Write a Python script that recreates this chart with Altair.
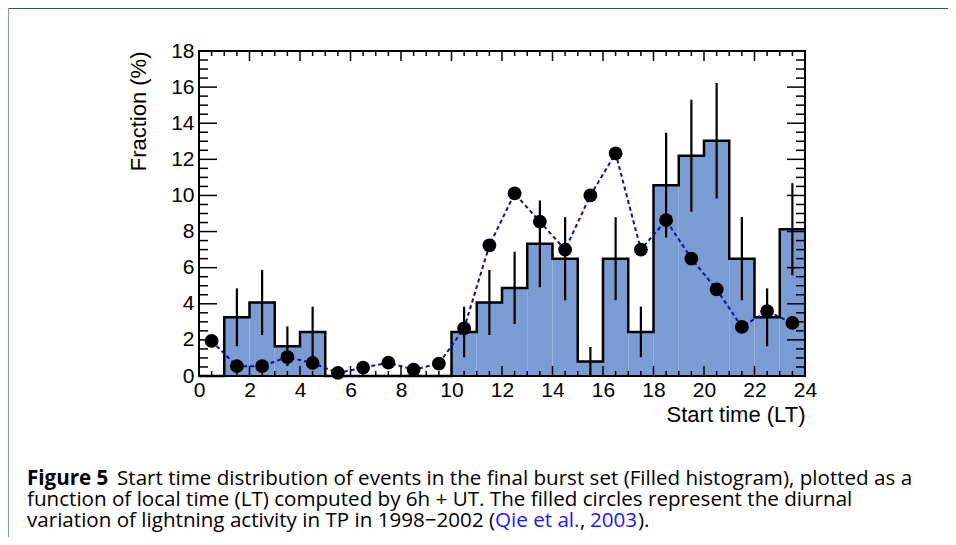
import altair as alt
import pandas as pd

# ---------------- data ----------------
hour_start = list(range(24))
burst_frac = [0, 3.25, 4.07, 1.65, 2.44, 0, 0, 0, 0, 0,
              2.44, 4.07, 4.88, 7.32, 6.5, 0.81, 6.5, 2.44,
              10.57, 12.2, 13.03, 6.5, 3.25, 8.13]
burst_err = [0, 1.6, 1.8, 1.1, 1.4, 0, 0, 0, 0, 0,
             1.4, 1.8, 2.0, 2.4, 2.3, 0.8, 2.3, 1.4,
             2.9, 3.1, 3.2, 2.3, 1.6, 2.55]
lightning = [1.94, 0.54, 0.55, 1.05, 0.72, 0.17, 0.46, 0.74, 0.35, 0.69,
             2.64, 7.24, 10.11, 8.55, 7.0, 10.0, 12.33, 7.0,
             8.63, 6.5, 4.8, 2.72, 3.59, 2.94]

x_major = [0, 2, 4, 6, 8, 10, 12, 14, 16, 18, 20, 22, 24]
x_minor = [0.5, 1, 1.5, 2.5, 3, 3.5, 4.5, 5, 5.5, 6.5, 7, 7.5, 8.5, 9, 9.5,
           10.5, 11, 11.5, 12.5, 13, 13.5, 14.5, 15, 15.5, 16.5, 17, 17.5,
           18.5, 19, 19.5, 20.5, 21, 21.5, 22.5, 23, 23.5]
y_major = [0, 2, 4, 6, 8, 10, 12, 14, 16, 18]
y_minor = [0.5, 1, 1.5, 2.5, 3, 3.5, 4.5, 5, 5.5, 6.5, 7, 7.5, 8.5, 9, 9.5,
           10.5, 11, 11.5, 12.5, 13, 13.5, 14.5, 15, 15.5, 16.5, 17, 17.5]

# ---------------- tables ----------------
hist = pd.DataFrame({"lo": hour_start, "frac": burst_frac, "err": burst_err})
hist["hi"] = hist["lo"] + 1
hist["mid"] = hist["lo"] + 0.5
hist["elo"] = (hist["frac"] - hist["err"]).clip(lower=0)
hist["ehi"] = hist["frac"] + hist["err"]
errs = hist[hist["err"] > 0]

step = pd.DataFrame({"x": hour_start + [24], "y": burst_frac + [burst_frac[-1]]})
light = pd.DataFrame({"x": [h + 0.5 for h in hour_start], "y": lightning})

W, H = 606, 325
OX, OY = 199, 51  # page position of plot origin
FONT = "Liberation Sans"
CAP_FONT = "Open Sans"
CAP_SIZE = 20.6

xs = alt.Scale(domain=[0, 24], nice=False, zero=False)
ys = alt.Scale(domain=[0, 18], nice=False, zero=False)

xax = alt.Axis(values=x_major, title="Start time (LT)", ticks=False, domain=False,
               grid=False, labelFont=FONT, labelFontSize=21, labelColor="black",
               labelPadding=3, labelFlush=False, labelOverlap=False, format="d",
               titleFont=FONT, titleFontSize=22, titleFontWeight="normal",
               titleColor="black", titleAnchor="end", titlePadding=4)
yax = alt.Axis(values=y_major, title="Fraction (%)", ticks=False, domain=False,
               grid=False, labelFont=FONT, labelFontSize=21, labelColor="black",
               labelPadding=5, labelFlush=False, labelOverlap=False, format="d",
               titleFont=FONT, titleFontSize=22, titleFontWeight="normal",
               titleColor="black", titleAnchor="end", titlePadding=20)


def X(f):
    return alt.X(f, type="quantitative", scale=xs, axis=xax)


def Y(f):
    return alt.Y(f, type="quantitative", scale=ys, axis=yax)


one = alt.Data(values=[{}])

bars = alt.Chart(hist).mark_rect(color="#7b9bd3", opacity=1).encode(
    x=X("lo"), x2="hi", y=Y("frac"), y2=alt.datum(0))

outline = alt.Chart(step).mark_line(interpolate="step-after", color="black",
                                    strokeWidth=2.5).encode(x=X("x"), y=Y("y"))

dashed = alt.Chart(light).mark_line(color="#10109a", strokeWidth=2,
                                    strokeDash=[4, 3]).encode(x=X("x"), y=Y("y"))

ebars = alt.Chart(errs).mark_rule(color="black", strokeWidth=2.2).encode(
    x=X("mid"), y=Y("elo"), y2="ehi")

dots = alt.Chart(light).mark_circle(color="black", opacity=1, size=190).encode(
    x=X("x"), y=Y("y"))

# ROOT-style inward ticks on all four sides
xt_major = pd.DataFrame({"t": x_major})
xt_minor = pd.DataFrame({"t": x_minor})
yt_major = pd.DataFrame({"t": y_major})
yt_minor = pd.DataFrame({"t": y_minor})
tk = dict(color="black", strokeWidth=1.5)
ticks = [
    alt.Chart(xt_major).mark_rule(**tk).encode(x=X("t"), y=alt.value(H), y2=alt.value(H - 10)),
    alt.Chart(xt_minor).mark_rule(**tk).encode(x=X("t"), y=alt.value(H), y2=alt.value(H - 5)),
    alt.Chart(xt_major).mark_rule(**tk).encode(x=X("t"), y=alt.value(0), y2=alt.value(10)),
    alt.Chart(xt_minor).mark_rule(**tk).encode(x=X("t"), y=alt.value(0), y2=alt.value(5)),
    alt.Chart(yt_major).mark_rule(**tk).encode(y=Y("t"), x=alt.value(0), x2=alt.value(18)),
    alt.Chart(yt_minor).mark_rule(**tk).encode(y=Y("t"), x=alt.value(0), x2=alt.value(9)),
    alt.Chart(yt_major).mark_rule(**tk).encode(y=Y("t"), x=alt.value(W), x2=alt.value(W - 18)),
    alt.Chart(yt_minor).mark_rule(**tk).encode(y=Y("t"), x=alt.value(W), x2=alt.value(W - 9)),
]

frame = alt.Chart(one).mark_rect(filled=False, stroke="black", strokeWidth=2).encode(
    x=alt.value(0), x2=alt.value(W), y=alt.value(0), y2=alt.value(H))

# outer figure box (top and left edges)
box_top = alt.Chart(one).mark_rule(color="#2f4f7f", strokeWidth=2).encode(
    x=alt.value(8 - OX), x2=alt.value(948 - OX), y=alt.value(8 - OY))
box_left = alt.Chart(one).mark_rule(color="#7f96b8", strokeWidth=2).encode(
    x=alt.value(8 - OX), y=alt.value(8 - OY), y2=alt.value(545 - OY))


def cap(s, px, py, bold=False, color="black"):
    return alt.Chart(alt.Data(values=[{"s": s}])).mark_text(
        align="left", baseline="alphabetic", font=CAP_FONT, fontSize=CAP_SIZE,
        fontWeight="bold" if bold else "normal", color=color).encode(
        x=alt.value(px - OX), y=alt.value(py - OY), text="s:N")


BLUE = "#1a1aff"
caption = [
    cap("Figure 5", 27, 485, bold=True),
    cap("Start time distribution of events in the final burst set (Filled histogram), plotted as a", 117, 485),
    cap("function of local time (LT) computed by 6h + UT. The filled circles represent the diurnal", 27, 506),
    cap("variation of lightning activity in TP in 1998\u22122002 (", 27, 527),
    cap("Qie et al.", 495, 527, color=BLUE),
    cap(",", 580, 527),
    cap("2003", 590, 527, color=BLUE),
    cap(").", 638, 527),
]

chart = alt.layer(bars, outline, dashed, ebars, dots, *ticks, frame,
                  box_top, box_left, *caption).properties(
    width=W, height=H,
    autosize=alt.AutoSizeParams(type="none"),
    padding={"left": OX - 8, "top": OY - 8, "right": 948 - OX - W, "bottom": 537 - OY - H},
    background="white",
).configure_view(stroke=None)

chart.save("out.html", embed_options={"renderer": "svg", "actions": False})
